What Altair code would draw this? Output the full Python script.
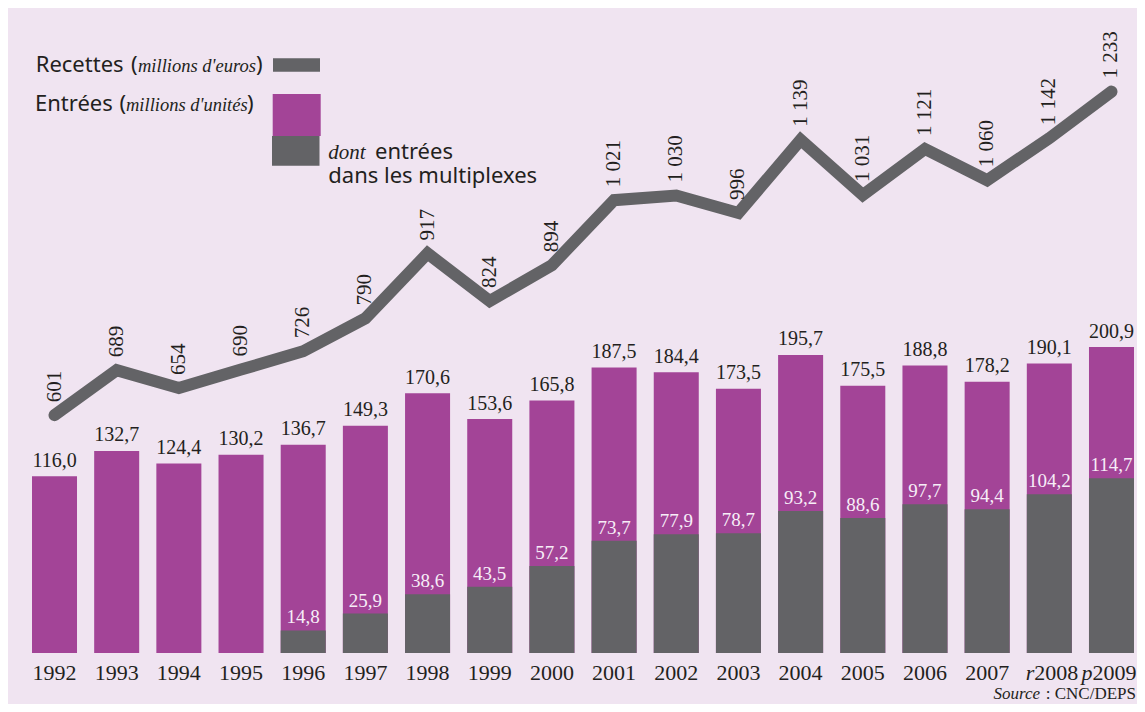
import altair as alt
import pandas as pd

# ---------------- data ----------------
years = ["1992", "1993", "1994", "1995", "1996", "1997", "1998", "1999", "2000",
         "2001", "2002", "2003", "2004", "2005", "2006", "2007", "r2008", "p2009"]
entrees = [116.0, 132.7, 124.4, 130.2, 136.7, 149.3, 170.6, 153.6, 165.8,
           187.5, 184.4, 173.5, 195.7, 175.5, 188.8, 178.2, 190.1, 200.9]
multiplexes = [None, None, None, None, 14.8, 25.9, 38.6, 43.5, 57.2,
               73.7, 77.9, 78.7, 93.2, 88.6, 97.7, 94.4, 104.2, 114.7]
recettes = [601, 689, 654, 690, 726, 790, 917, 824, 894,
            1021, 1030, 996, 1139, 1031, 1121, 1060, 1142, 1233]

MAGENTA = "#a34497"
GRAY = "#636366"
BG = "#f0e4f1"
INK = "#231f20"
WHITE_LBL = "#f7eef7"
SERIF = "Liberation Serif"
SANS = "Noto Sans"


def fr1(v):
    return f"{v:.1f}".replace(".", ",")


def fr_int(v):
    return f"{v:,}".replace(",", " ")


df = pd.DataFrame({"year": years, "entrees": entrees, "recettes": recettes, "mult": multiplexes})
df["ent_lbl"] = [fr1(v) for v in entrees]
df["rec_lbl"] = [fr_int(v) for v in recettes]
df["num"] = [y.lstrip("rp") for y in years]
df["prefix"] = [y[0] if y[0] in "rp" else "" for y in years]
mdf = df.dropna(subset=["mult"]).copy()
mdf["mult_lbl"] = [fr1(v) for v in mdf["mult"]]

W, H = 1102, 637

x_enc = alt.X("year:N", scale=alt.Scale(domain=years, paddingInner=0.276, paddingOuter=0), axis=None)
ybar = alt.Scale(domain=[0, 418.3], nice=False, zero=True)
yline = alt.Scale(domain=[136.5, 1380.7], nice=False, zero=False)

bars = alt.Chart(df).mark_bar(color=MAGENTA).encode(
    x=x_enc, y=alt.Y("entrees:Q", scale=ybar, axis=None))
dark = alt.Chart(mdf).mark_bar(color=GRAY).encode(
    x=x_enc, y=alt.Y("mult:Q", scale=ybar, axis=None))
bar_lbl = alt.Chart(df).mark_text(font=SERIF, fontSize=20, color=INK, baseline="alphabetic", dy=-9.5).encode(
    x=x_enc, y=alt.Y("entrees:Q", scale=ybar, axis=None), text="ent_lbl:N")
mult_lbl = alt.Chart(mdf).mark_text(font=SERIF, fontSize=19, color=WHITE_LBL, baseline="alphabetic", dy=-7).encode(
    x=x_enc, y=alt.Y("mult:Q", scale=ybar, axis=None), text="mult_lbl:N")

line = alt.Chart(df).mark_line(color=GRAY, strokeWidth=12, strokeCap="round", strokeJoin="miter").encode(
    x=x_enc, y=alt.Y("recettes:Q", scale=yline, axis=None))
line_lbl = alt.Chart(df).mark_text(font=SERIF, fontSize=21, color=INK, angle=270, align="left",
                                   baseline="middle", dx=13).encode(
    x=x_enc, y=alt.Y("recettes:Q", scale=yline, axis=None), text="rec_lbl:N")

YR_Y = 664
yr_plain = alt.Chart(df[df["prefix"] == ""]).mark_text(font=SERIF, fontSize=22, color=INK, baseline="alphabetic").encode(
    x=x_enc, y=alt.value(YR_Y), text="num:N")
d08 = df[df["prefix"] == "r"]
d09 = df[df["prefix"] == "p"]
yr08_num = alt.Chart(d08).mark_text(font=SERIF, fontSize=22, color=INK, baseline="alphabetic", dx=7).encode(
    x=x_enc, y=alt.value(YR_Y), text="num:N")
yr08_pre = alt.Chart(d08).mark_text(font=SERIF, fontSize=22, fontStyle="italic", color=INK,
                                    baseline="alphabetic", align="right", dx=-15).encode(
    x=x_enc, y=alt.value(YR_Y), text="prefix:N")
yr09_num = alt.Chart(d09).mark_text(font=SERIF, fontSize=22, color=INK, baseline="alphabetic", dx=3).encode(
    x=x_enc, y=alt.value(YR_Y), text="num:N")
yr09_pre = alt.Chart(d09).mark_text(font=SERIF, fontSize=22, fontStyle="italic", color=INK,
                                    baseline="alphabetic", align="right", dx=-19).encode(
    x=x_enc, y=alt.value(YR_Y), text="prefix:N")

one = alt.Data(values=[{"k": 0}])


def txt(s, x, y, size=22, font=SANS, style="normal", align="left"):
    return alt.Chart(one).mark_text(text=s, font=font, fontSize=size, fontStyle=style, align=align,
                                    baseline="alphabetic", color=INK).encode(x=alt.value(x), y=alt.value(y))


def box(x1, x2, y1, y2, color):
    return alt.Chart(one).mark_rect(color=color).encode(
        x=alt.value(x1), x2=alt.value(x2), y=alt.value(y1), y2=alt.value(y2))


legend = [
    txt("Recettes", 3.7, 55.7),
    txt("(", 99, 55.7),
    txt("millions d'euros", 106, 55.7, size=18.5, font=SERIF, style="italic"),
    txt(")", 224, 55.7),
    box(241, 288, 42.3, 55.7, GRAY),
    txt("Entrées", 3, 94.7),
    txt("(", 87.5, 94.7),
    txt("millions d'unités", 94, 94.7, size=18.5, font=SERIF, style="italic"),
    txt(")", 215, 94.7),
    box(240.7, 288.7, 78, 120, MAGENTA),
    box(240, 287.5, 120, 149.7, GRAY),
    txt("dont", 296.3, 143.3, size=21, font=SERIF, style="italic"),
    txt("entrées", 343, 143.3),
    txt("dans les multiplexes", 296.3, 167.3),
    txt(": CNC/DEPS", 1104, 683, size=17, font=SERIF, align="right"),
    txt("Source", 1008, 683, size=17, font=SERIF, style="italic", align="right"),
]

chart = alt.layer(
    bars, dark, bar_lbl, mult_lbl, line, line_lbl,
    yr_plain, yr08_num, yr08_pre, yr09_num, yr09_pre, *legend
).resolve_scale(y="independent").properties(
    width=W, height=H,
    autosize=alt.AutoSizeParams(type="none"),
    padding={"left": 24, "top": 8, "right": 3, "bottom": 51},
    background=BG,
).configure_view(stroke=None)

chart.save("out.html", embed_options={"renderer": "svg", "actions": False})
